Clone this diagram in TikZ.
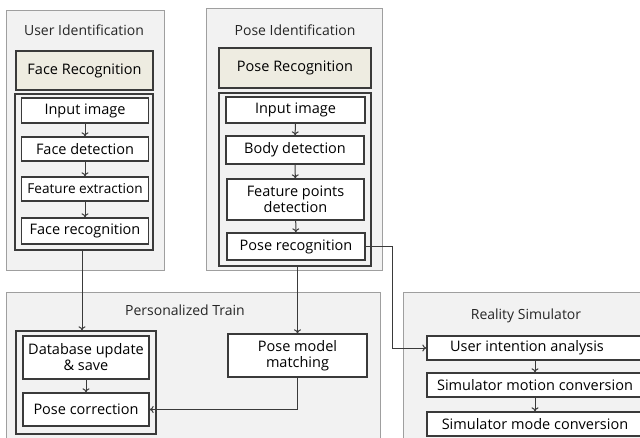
\documentclass[tikz,border=0pt]{standalone}
\usepackage{fontspec}
\setmainfont{Open Sans}
\usetikzlibrary{positioning, arrows.meta}
\definecolor{panelgray}{HTML}{F2F2F2}
\definecolor{headbeige}{HTML}{EEECE1}
\definecolor{linedark}{HTML}{3A3A3A}
\tikzset{
  panel/.style={draw=gray!75, fill=panelgray, line width=0.9pt},
  title/.style={font=\fontsize{14}{16}\selectfont, text=black!85},
  headbox/.style={draw=linedark, fill=headbeige, line width=1.3pt, font=\fontsize{14.5}{16}\selectfont, minimum height=39pt},
  pipe/.style={draw=linedark, line width=1.3pt},
  stepbox/.style={draw=linedark, fill=white, line width=1.3pt, font=\fontsize{14.5}{16}\selectfont, align=center, inner sep=1pt},
  link/.style={draw=linedark, line width=1pt, -{To[length=4pt, width=7pt]}}
}
\begin{document}
\begin{tikzpicture}[x=1pt, y=-1pt]
		\useasboundingbox (0, 0) rectangle (640, 437);
		\clip (0, 0) rectangle (640, 437);
		% user identification
		\draw[panel] (6, 10) rectangle (164, 270);
		\node[title] (usertitle) at (84, 30) {User Identification};
		\node[headbox, minimum width=137pt] (facehead) at (84.5, 70.5) {Face Recognition};
		\node[pipe, minimum width=138pt, minimum height=156pt] (facepipe) at (84, 172) {};
		\node[stepbox, minimum width=127pt, minimum height=25pt] (faceinput) at (85, 110.5) {Input image};
		\node[stepbox, minimum width=127pt, minimum height=24pt] (facedetect) at (85, 149) {Face detection};
		\node[stepbox, minimum width=127pt, minimum height=24pt, font=\fontsize{13.6}{15}\selectfont] (facefeat) at (85, 189) {Feature extraction};
		\node[stepbox, minimum width=127pt, minimum height=26pt] (facerec) at (85, 231) {Face recognition};
		\draw[link] (faceinput) -- (facedetect);
		\draw[link] (facedetect) -- (facefeat);
		\draw[link] (facefeat) -- (facerec);
		% pose identification
		\draw[panel] (206, 8) rectangle (382, 270);
		\node[title] (posetitle) at (295, 30) {Pose Identification};
		\node[headbox, minimum width=152pt, minimum height=40pt] (posehead) at (295, 68) {Pose Recognition};
		\node[pipe, minimum width=152pt, minimum height=173pt] (posepipe) at (295, 179.5) {};
		\node[stepbox, minimum width=139pt, minimum height=26pt] (poseinput) at (295.5, 110) {Input image};
		\node[stepbox, minimum width=138pt, minimum height=28pt] (bodydetect) at (295, 150) {Body detection};
		\node[stepbox, minimum width=137pt, minimum height=41pt] (featpoints) at (295.5, 199.5) {Feature points\\detection};
		\node[stepbox, minimum width=138pt, minimum height=27pt] (poserec) at (296, 246.5) {Pose recognition};
		\draw[link] (poseinput) -- (bodydetect);
		\draw[link] (bodydetect) -- (featpoints);
		\draw[link] (featpoints) -- (poserec);
		% personalized train
		\draw[panel] (6, 292) rectangle (380, 450);
		\node[title] (traintitle) at (185, 310) {Personalized Train};
		\node[pipe, minimum width=140pt, minimum height=103pt] (trainpipe) at (86, 382.5) {};
		\node[stepbox, minimum width=126pt, minimum height=43pt] (dbupdate) at (86, 357.5) {Database update\\\& save};
		\node[stepbox, minimum width=126pt, minimum height=33pt] (posecorr) at (86, 409.5) {Pose correction};
		\node[stepbox, minimum width=139pt, minimum height=43pt] (modelmatch) at (297.5, 355.5) {Pose model\\matching};
		\draw[link] (dbupdate) -- (posecorr);
		% reality simulator
		\draw[panel] (403, 292) rectangle (660, 450);
		\node[title] (simtitle) at (526, 316) {Reality Simulator};
		\node[stepbox, minimum width=216pt, minimum height=24pt] (intent) at (535, 348) {\hspace*{-16pt}User intention analysis};
		\node[stepbox, minimum width=216pt, minimum height=24pt] (motionconv) at (535, 385) {Simulator motion conversion};
		\node[stepbox, minimum width=216pt, minimum height=24pt] (modeconv) at (535, 424) {Simulator mode conversion};
		\draw[link] (intent) -- (motionconv);
		\draw[link] (motionconv) -- (modeconv);
		% connections between parts
		\draw[link] (facepipe.south -| 82, 0) -- (82, 0 |- trainpipe.north);
		\draw[link] (posepipe.south -| modelmatch.north) -- (modelmatch.north);
		\draw[link] (modelmatch.south) |- (posecorr.east);
		\draw[link] (poserec.east) -- ++(27, 0) |- (intent.west);
\end{tikzpicture}
\end{document}
